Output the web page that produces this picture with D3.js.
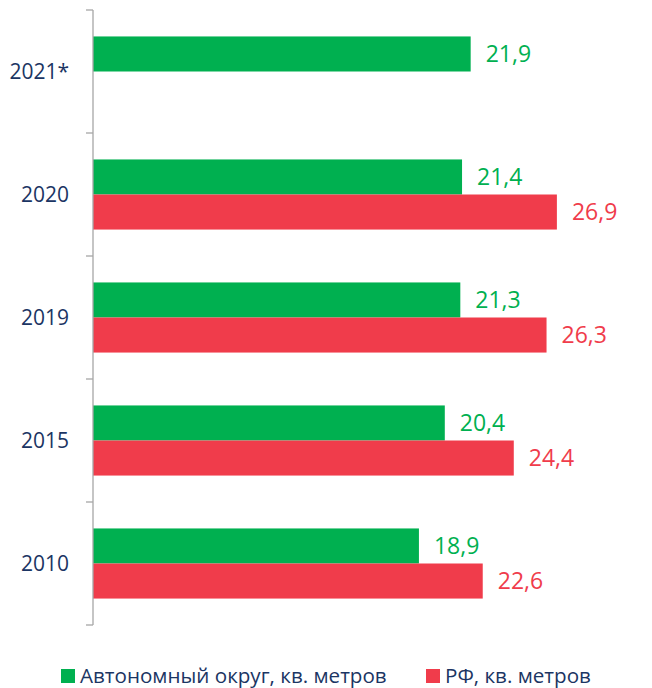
<!DOCTYPE html>
<html>
<head>
<meta charset="utf-8">
<script src="https://cdn.jsdelivr.net/npm/d3@7"></script>
<style>
  body { margin: 0; background: #fff; }
  svg { display: block; font-family: "Open Sans", sans-serif; }
</style>
</head>
<body>
<div id="vis"></div>
<script>
// Chart data
const YEARS = ["2021*", "2020", "2019", "2015", "2010"];
const OKRUG_VALUES = [21.9, 21.4, 21.3, 20.4, 18.9];
const RF_VALUES = [null, 26.9, 26.3, 24.4, 22.6];
const SERIES_NAMES = ["Автономный округ, кв. метров", "РФ, кв. метров"];

const GREEN = "#00b050";
const RED = "#f03c4b";
const NAVY = "#1b3563";

// Frame
const FRAME_WIDTH = 652;
const FRAME_HEIGHT = 688;
const MARGINS = {left: 93, right: 52, top: 10, bottom: 63};
const VIS_WIDTH = FRAME_WIDTH - MARGINS.left - MARGINS.right;
const VIS_HEIGHT = FRAME_HEIGHT - MARGINS.top - MARGINS.bottom;

const FRAME = d3.select("#vis")
                .append("svg")
                .attr("width", FRAME_WIDTH)
                .attr("height", FRAME_HEIGHT);

const PLOT = FRAME.append("g")
                  .attr("transform", "translate(" + MARGINS.left + "," + MARGINS.top + ")");

// Scales
const X_SCALE = d3.scaleLinear()
                  .domain([0, 29.4])
                  .range([0, VIS_WIDTH]);

const Y_SCALE = d3.scaleBand()
                  .domain(YEARS)
                  .range([0, VIS_HEIGHT])
                  .paddingInner(0.43)
                  .paddingOuter(0.215);

const SUB_SCALE = d3.scaleBand()
                    .domain(["okrug", "rf"])
                    .range([0, Y_SCALE.bandwidth()]);

// Rows: one group per year
const rows = YEARS.map((y, i) => ({year: y, okrug: OKRUG_VALUES[i], rf: RF_VALUES[i]}));

const bars = [];
rows.forEach((r) => {
  bars.push({year: r.year, key: "okrug", value: r.okrug, color: GREEN});
  if (r.rf !== null) bars.push({year: r.year, key: "rf", value: r.rf, color: RED});
});

// Bars
PLOT.append("g").selectAll("rect")
    .data(bars)
    .enter()
    .append("rect")
      .attr("x", 0)
      .attr("y", (d) => Y_SCALE(d.year) + SUB_SCALE(d.key))
      .attr("width", (d) => X_SCALE(d.value))
      .attr("height", SUB_SCALE.bandwidth())
      .attr("fill", (d) => d.color);

// Value labels
PLOT.append("g").selectAll("text")
    .data(bars)
    .enter()
    .append("text")
      .attr("x", (d) => X_SCALE(d.value) + 15)
      .attr("y", (d) => Y_SCALE(d.year) + SUB_SCALE(d.key) + SUB_SCALE.bandwidth() / 2)
      .attr("dy", "0.36em")
      .attr("font-size", "23px")
      .attr("fill", (d) => d.color)
      .text((d) => d3.format(".1f")(d.value).replace(".", ","));

// Y axis: line, ticks between categories, labels
const AXIS = PLOT.append("g").attr("stroke", "#a6a6a6").attr("stroke-width", 1.3);
AXIS.append("line")
    .attr("x1", 0).attr("x2", 0)
    .attr("y1", 0).attr("y2", VIS_HEIGHT);

const boundaries = d3.range(YEARS.length + 1).map((i) => i * Y_SCALE.step());
AXIS.selectAll(".tick")
    .data(boundaries)
    .enter()
    .append("line")
      .attr("x1", -7).attr("x2", 0)
      .attr("y1", (d) => d).attr("y2", (d) => d);

PLOT.append("g").selectAll("text")
    .data(YEARS)
    .enter()
    .append("text")
      .attr("x", -24)
      .attr("y", (d) => Y_SCALE(d) + Y_SCALE.bandwidth() / 2)
      .attr("dy", "0.36em")
      .attr("text-anchor", "end")
      .attr("font-size", "21px")
      .attr("fill", NAVY)
      .text((d) => d);

// Legend
const LEGEND_X = [61, 426];
const LEGEND = FRAME.append("g");
SERIES_NAMES.forEach((name, i) => {
  LEGEND.append("rect")
        .attr("x", LEGEND_X[i])
        .attr("y", 669)
        .attr("width", 14)
        .attr("height", 14)
        .attr("fill", i === 0 ? GREEN : RED);
  LEGEND.append("text")
        .attr("x", LEGEND_X[i] + 19)
        .attr("y", 683)
        .attr("font-size", "20.6px")
        .attr("fill", NAVY)
        .text(name);
});
</script>
</body>
</html>
